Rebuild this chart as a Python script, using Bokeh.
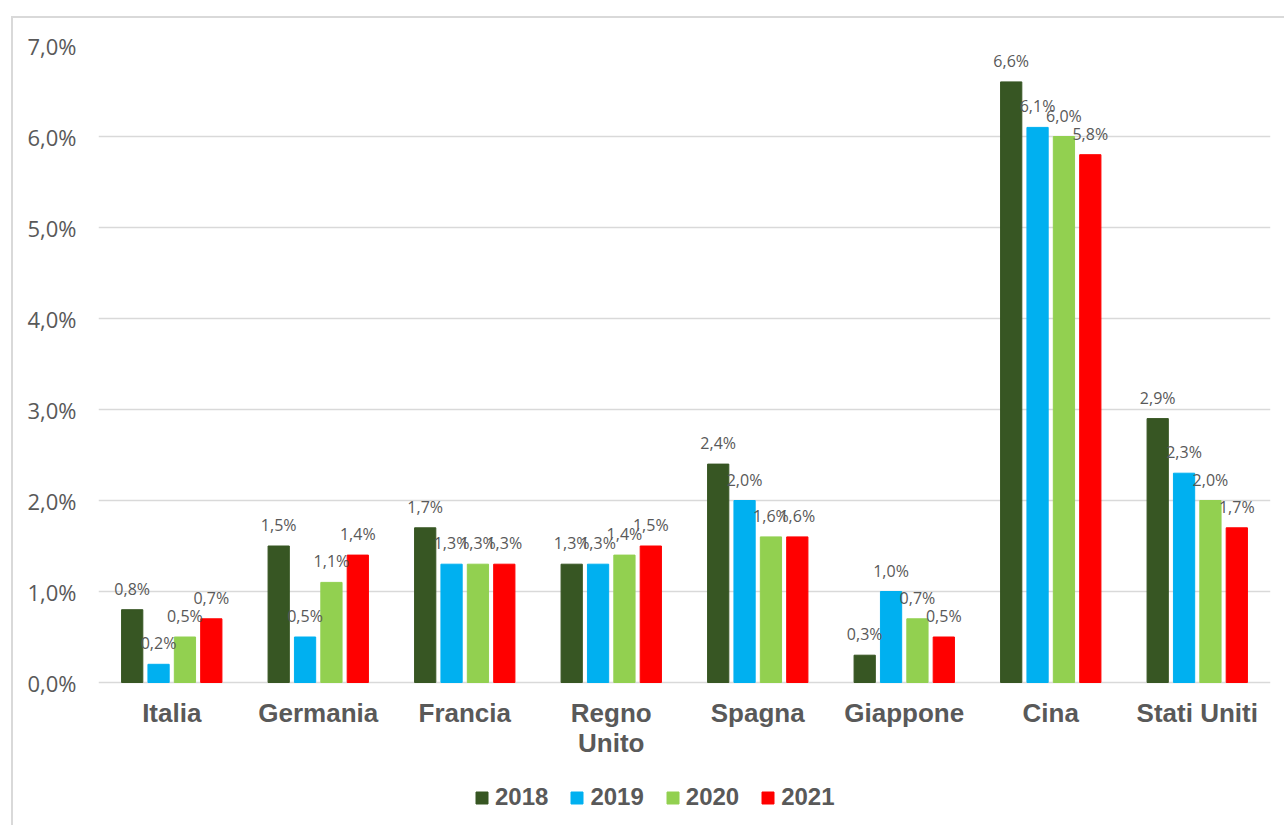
from bokeh.plotting import figure
from bokeh.models import FactorRange, Range1d, ColumnDataSource, LabelSet, Legend, LegendItem
from bokeh.transform import dodge
from bokeh.core.properties import value
from bokeh.embed import file_html
from bokeh.resources import INLINE

countries = ["Italia", "Germania", "Francia", "Regno\nUnito", "Spagna", "Giappone", "Cina", "Stati Uniti"]
years = ["2018", "2019", "2020", "2021"]
v2018 = [0.8, 1.5, 1.7, 1.3, 2.4, 0.3, 6.6, 2.9]
v2019 = [0.2, 0.5, 1.3, 1.3, 2.0, 1.0, 6.1, 2.3]
v2020 = [0.5, 1.1, 1.3, 1.4, 1.6, 0.7, 6.0, 2.0]
v2021 = [0.7, 1.4, 1.3, 1.5, 1.6, 0.5, 5.8, 1.7]
series = [v2018, v2019, v2020, v2021]
colors = ["#375623", "#00B0F0", "#92D050", "#FF0000"]
offsets = [-0.27, -0.09, 0.09, 0.27]
y_ticks = [0, 1, 2, 3, 4, 5, 6, 7]

def fmt(v):
    return f"{v:.1f}".replace(".", ",") + "%"

# frame: y=7 at top, y=0 at 637px below; frame continues 145px further down for labels + legend
px_per_unit = 637 / 7
y_bottom = -145 / px_per_unit

p = figure(width=1273, height=809, x_range=FactorRange(*countries), y_range=Range1d(y_bottom, 7),
           output_backend="svg", toolbar_location=None,
           min_border_left=85, min_border_right=16, min_border_top=27, min_border_bottom=0)
p.margin = (16, 0, 0, 11)
p.styles = {"border-left": "2px solid #d9d9d9", "border-top": "2px solid #d9d9d9"}
p.outline_line_color = None
p.background_fill_color = "white"
p.border_fill_color = "white"
p.x_range.range_padding = 0

p.xaxis.visible = False
p.xgrid.grid_line_color = None
p.ygrid.grid_line_color = "#d9d9d9"
p.ygrid.grid_line_width = 1.5
p.yaxis.ticker = y_ticks
p.yaxis.major_label_overrides = {t: fmt(t) for t in y_ticks}
p.yaxis.axis_line_color = None
p.yaxis.major_tick_line_color = None
p.yaxis.minor_tick_line_color = None
p.yaxis.major_label_text_font = "Open Sans"
p.yaxis.major_label_text_font_size = "22px"
p.yaxis.major_label_text_color = "#595959"
p.yaxis.major_label_standoff = 16

# category labels under the baseline (each line centred separately)
line1 = [c.split("\n")[0] for c in countries]
line2 = [c.split("\n")[1] if "\n" in c else "" for c in countries]
cat_src = ColumnDataSource(dict(country=countries, base=[0] * len(countries), l1=line1, l2=line2))
for col_name, off_px in (("l1", -15), ("l2", -45)):
    p.add_layout(LabelSet(x="country", y="base", text=col_name, source=cat_src,
                          y_offset=off_px, text_align="center", text_baseline="top",
                          text_font=value("Liberation Sans"), text_font_style="bold",
                          text_font_size="26px", text_color="#595959"))

items = []
for yr, vals, col, off in zip(years, series, colors, offsets):
    src = ColumnDataSource(dict(country=countries, val=vals, lab=[fmt(v) for v in vals]))
    r = p.vbar(x=dodge("country", off, range=p.x_range), top="val", width=0.145, source=src,
               fill_color=col, line_color=col)
    items.append(LegendItem(label=yr, renderers=[r]))
    p.add_layout(LabelSet(x=dodge("country", off, range=p.x_range), y="val", text="lab", source=src,
                          y_offset=21, text_align="center", text_baseline="middle",
                          text_font=value("Open Sans"), text_font_size="16px", text_color="#595959"))

legend = Legend(items=items, orientation="horizontal", location=(376, 16),
                glyph_width=15, glyph_height=15, label_standoff=6, spacing=21,
                padding=0, margin=0, border_line_color=None, background_fill_alpha=0,
                label_text_font="Liberation Sans", label_text_font_style="bold",
                label_text_font_size="24px", label_text_color="#595959")
p.add_layout(legend, "center")

open("out.html", "w").write(file_html(p, INLINE))
